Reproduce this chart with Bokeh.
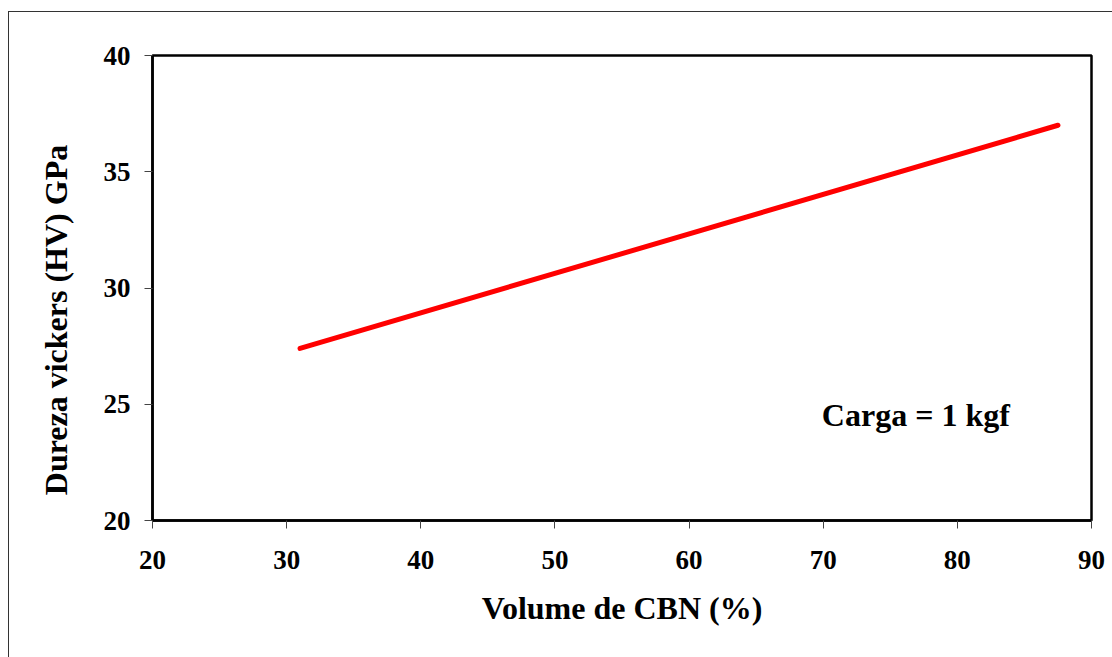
from bokeh.plotting import figure
from bokeh.models import Range1d, FixedTicker, Label
from bokeh.embed import file_html
from bokeh.resources import INLINE

# Data
volume_cbn = [31.0, 87.5]
dureza_hv = [27.4, 37.0]
x_ticks = [20, 30, 40, 50, 60, 70, 80, 90]
y_ticks = [20, 25, 30, 35, 40]
annotation_text = "Carga = 1 kgf"
x_title = "Volume de CBN (%)"
y_title = "Dureza vickers (HV) GPa"

FONT = "Liberation Serif"

p = figure(width=1104, height=646, output_backend="svg", toolbar_location=None,
           x_range=Range1d(20, 90), y_range=Range1d(20, 40),
           margin=(11, 0, 0, 8),
           styles={"border-left": "1px solid #333333", "border-top": "1px solid #333333",
                   "box-sizing": "border-box"},
           min_border_left=143, min_border_right=22, min_border_top=43, min_border_bottom=138)

p.background_fill_color = "white"
p.border_fill_color = "white"
p.outline_line_color = "black"
p.outline_line_width = 2.5
p.xgrid.visible = False
p.ygrid.visible = False

p.line(volume_cbn, dureza_hv, line_color="#ff0000", line_width=5, line_cap="round")

for ax in (p.xaxis[0], p.yaxis[0]):
    ax.axis_line_color = "black"
    ax.axis_line_width = 2.5
    ax.major_tick_line_color = "#444444"
    ax.major_tick_line_width = 1
    ax.major_tick_in = 0
    ax.major_tick_out = 8
    ax.minor_tick_line_color = None
    ax.major_label_text_font = FONT
    ax.major_label_text_font_style = "bold"
    ax.major_label_text_font_size = "27px"
    ax.major_label_text_color = "black"
    ax.axis_label_text_font = FONT
    ax.axis_label_text_font_style = "bold"
    ax.axis_label_text_font_size = "32px"
    ax.axis_label_text_color = "black"

p.xaxis.ticker = FixedTicker(ticks=x_ticks)
p.yaxis.ticker = FixedTicker(ticks=y_ticks)
p.xaxis.major_label_standoff = 22
p.yaxis.major_label_standoff = 14

p.xaxis.axis_label = x_title
p.xaxis.axis_label_standoff = 18

# trailing no-break spaces shift the centred vertical title toward the bottom, as in the original
p.yaxis.axis_label = y_title + "\u00a0" * 8
p.yaxis.axis_label_standoff = 27

carga = Label(x=69.9, y=24.55, text=annotation_text, text_align="left", text_baseline="alphabetic",
              text_font=FONT, text_font_style="bold", text_font_size="32px", text_color="black")
p.add_layout(carga)

open("out.html", "w").write(file_html(p, INLINE))
